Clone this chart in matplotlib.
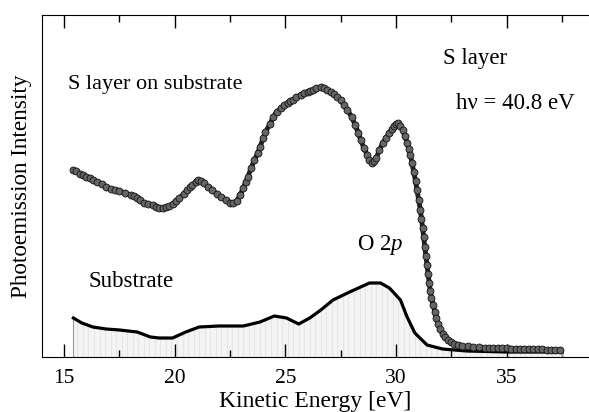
import numpy as np
import matplotlib.pyplot as plt

# S layer on substrate: kinetic energy [eV] and intensity (arb. units)
s_energy = [15.42, 15.55, 15.7, 15.85, 16.0, 16.15, 16.3, 16.5, 16.7, 16.9, 17.1, 17.3,
            17.5, 17.75, 18.0, 18.15, 18.3, 18.45, 18.6, 18.8, 19.0, 19.15, 19.3, 19.45,
            19.6, 19.75, 19.9, 20.05, 20.2, 20.4, 20.55, 20.7, 20.8, 20.95, 21.05, 21.2,
            21.3, 21.5, 21.7, 21.9, 22.1, 22.3, 22.5, 22.65, 22.8, 22.95, 23.1, 23.2,
            23.3, 23.45, 23.6, 23.75, 23.85, 24.0, 24.1, 24.3, 24.45, 24.6, 24.8, 24.95,
            25.1, 25.2, 25.35, 25.5, 25.7, 25.85, 26.0, 26.1, 26.25, 26.4, 26.6, 26.75,
            26.9, 27.05, 27.2, 27.35, 27.5, 27.65, 27.8, 28.0, 28.15, 28.3, 28.4, 28.55,
            28.7, 28.8, 28.9, 29.0, 29.1, 29.25, 29.4, 29.55, 29.7, 29.8, 29.9, 30.0,
            30.1, 30.2, 30.3, 30.4, 30.5, 30.58, 30.65, 30.72, 30.8, 30.88, 30.95, 31.02,
            31.1, 31.15, 31.2, 31.25, 31.3, 31.35, 31.4, 31.45, 31.5, 31.55, 31.6, 31.68,
            31.75, 31.82, 31.9, 32.0, 32.1, 32.22, 32.35, 32.48, 32.6, 32.8, 33.0, 33.25,
            33.5, 33.75, 34.0, 34.2, 34.4, 34.6, 34.8, 35.0, 35.2, 35.4, 35.6, 35.8,
            36.0, 36.2, 36.4, 36.6, 36.8, 37.0, 37.2, 37.4]
s_level = [170, 171, 174, 175, 177, 178, 180, 182, 184, 187, 189, 190,
           191, 193, 195, 196, 198, 200, 203, 204, 205, 207, 208, 208,
           207, 206, 204, 201, 198, 194, 190, 187, 185, 182, 180, 181,
           183, 187, 190, 194, 197, 200, 203, 203, 201, 195, 188, 182,
           177, 168, 160, 153, 147, 138, 132, 124, 117, 112, 108, 105,
           103, 101, 100, 97, 95, 93, 92, 91, 90, 88, 87, 88,
           90, 92, 94, 97, 100, 105, 110, 117, 125, 133, 140, 148,
           155, 160, 163, 161, 158, 150, 143, 138, 133, 129, 126, 124,
           123, 126, 130, 136, 143, 149, 155, 163, 172, 181, 190, 200,
           210, 219, 228, 237, 247, 256, 265, 274, 283, 291, 298, 305,
           312, 318, 324, 329, 334, 337, 340, 342, 344, 345, 346, 346.5,
           347, 347.5, 348, 348, 348, 348, 348.5, 348.5, 349, 349, 349, 349,
           349, 349.5, 349.5, 349.5, 350, 350, 350, 350]
s_intensity = 357 - np.array(s_level)

# clean substrate
sub_energy = [15.42, 15.8, 16.3, 16.9, 17.5, 18.3, 18.9, 19.3, 19.9, 20.5, 21.1, 22.0,
              23.1, 23.85, 24.5, 25.05, 25.6, 26.1, 26.6, 27.15, 27.9, 28.4, 28.8, 29.3,
              29.7, 30.2, 30.5, 30.85, 31.4, 32.1, 33.2, 35.0, 37.3, 37.5]
sub_level = [318, 323, 327, 329, 330, 332, 337, 338, 338, 332, 327, 326,
             326, 322, 316, 318, 324, 318, 310, 300, 292, 287, 283, 283,
             288, 300, 317, 333, 345, 349, 351, 352, 352, 352]
sub_intensity = 357 - np.array(sub_level)

plt.rcParams['font.family'] = 'Liberation Serif'
plt.rcParams['mathtext.fontset'] = 'custom'
plt.rcParams['mathtext.rm'] = 'Liberation Serif'
plt.rcParams['mathtext.it'] = 'Liberation Serif:italic'

fig = plt.figure(figsize=(5.89, 4.12), dpi=100)
ax = fig.add_axes([0.0713, 0.1335, 0.9287, 0.830])

stripes = np.arange(15.6, 37.5, 0.25)
ax.fill_between(sub_energy, 0, sub_intensity, color='#f4f4f4', linewidth=0)
ax.vlines(stripes, 0, np.interp(stripes, sub_energy, sub_intensity), color='#e6e6e6', linewidth=0.8)
ax.vlines([sub_energy[0], sub_energy[-1]], 0, [sub_intensity[0], sub_intensity[-1]],
          color='#999999', linewidth=0.8)
ax.plot(sub_energy, sub_intensity, color='black', linewidth=2.3)

ax.plot(s_energy, s_intensity, color='#222222', linewidth=3.5)
ax.plot(s_energy, s_intensity, 'o', color='#666666', markeredgecolor='#111111',
        markeredgewidth=0.6, markersize=5)

ax.set_xlim(14, 38.72)
ax.set_ylim(0, 342)
ax.set_xticks([15, 20, 25, 30, 35])
ax.set_xticks(np.arange(17.5, 38.5, 5), minor=True)
ax.set_yticks([])
ax.tick_params(axis='x', which='both', direction='in', top=True, labelsize=15.5, width=1, pad=8.5)
ax.tick_params(axis='x', which='major', length=9.5)
ax.tick_params(axis='x', which='minor', length=5)
ax.spines['right'].set_visible(False)

ax.set_xlabel('Kinetic Energy [eV]', fontsize=17, labelpad=2)
ax.set_ylabel('Photoemission Intensity', fontsize=16.7, labelpad=7)

ax.text(15.18, 273, 'S layer on substrate', fontsize=16, va='center')
ax.text(16.08, 76, 'Substrate', fontsize=16.5, va='center')
ax.text(28.24, 112, 'O 2$\\mathit{p}$', fontsize=16.5, va='center')
ax.text(32.13, 299, 'S layer', fontsize=16.5, va='center')
ax.text(32.71, 254, 'h\u03bd = 40.8 eV', fontsize=16.5, va='center')

plt.savefig('out.png', dpi=100)
